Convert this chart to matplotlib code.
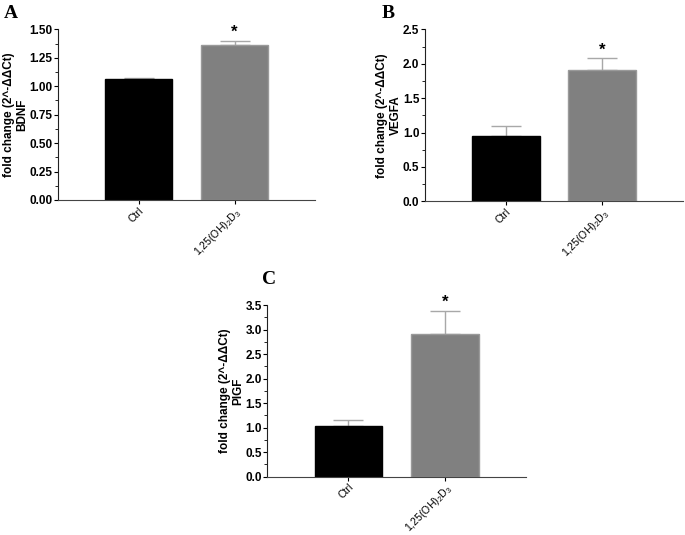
import numpy as np
import matplotlib.pyplot as plt
from matplotlib.ticker import MultipleLocator, FormatStrFormatter

plt.rcParams['font.family'] = ['Liberation Sans', 'DejaVu Sans']
plt.rcParams['mathtext.fontset'] = 'custom'
plt.rcParams['mathtext.rm'] = 'Liberation Sans'
plt.rcParams['mathtext.it'] = 'Liberation Sans:italic'
plt.rcParams['mathtext.bf'] = 'Liberation Sans:bold'

groups = ["Ctrl", "1,25(OH)$_2$D$_3$"]
bdnf = [1.06, 1.36]
bdnf_err = [0.01, 0.04]
vegfa = [0.95, 1.91]
vegfa_err = [0.15, 0.17]
pigf = [1.03, 2.91]
pigf_err = [0.12, 0.47]

panels = [
    ("A", "BDNF", bdnf, bdnf_err, 1.5, 0.25, "%.2f", [58.3, 200, 315, 29.3], (4, 14)),
    ("B", "VEGFA", vegfa, vegfa_err, 2.5, 0.5, "%.1f", [425, 201.3, 683, 29.3], (382, 14)),
    ("C", "PlGF", pigf, pigf_err, 3.5, 0.5, "%.1f", [267.3, 476.7, 526, 305], (262, 280)),
]

W, H = 685, 535
fig = plt.figure(figsize=(W / 100, H / 100), dpi=100)

bar_colors = ["black", "#808080"]
edge_colors = ["black", "#9a9a9a"]

for letter, gene, vals, errs, ymax, step, fmt, box, lpos in panels:
    l, b, r, t = box
    ax = fig.add_axes([l / W, 1 - b / H, (r - l) / W, (b - t) / H])
    x = np.arange(len(vals))
    ax.bar(x, vals, width=0.7, color=bar_colors, edgecolor=edge_colors, linewidth=1, zorder=2)
    ax.errorbar(x, vals, yerr=[np.zeros(len(errs)), errs], fmt="none",
                ecolor="#a8a8a8", elinewidth=1, capsize=11, capthick=1, zorder=1)
    ax.text(x[1], vals[1] + errs[1] + ymax * 0.005, "*", ha="center", va="bottom",
            fontsize=12, fontweight="bold")
    ax.set_xlim(-0.84, 1.84)
    ax.set_ylim(0, ymax)
    ax.yaxis.set_major_locator(MultipleLocator(step))
    ax.yaxis.set_minor_locator(MultipleLocator(step / 2))
    ax.yaxis.set_major_formatter(FormatStrFormatter(fmt))
    for s in ["top", "right"]:
        ax.spines[s].set_visible(False)
    ax.spines["left"].set_color("#222222")
    ax.spines["bottom"].set_color("#444444")
    ax.tick_params(axis="y", which="major", length=3, width=0.8, labelsize=8.5, pad=1)
    ax.tick_params(axis="y", which="minor", length=2, width=0.6)
    ax.tick_params(axis="x", length=3, width=0.8, labelsize=7.6, pad=1)
    for lab in ax.get_yticklabels():
        lab.set_fontweight("bold")
    ax.set_xticks(x)
    ax.set_xticklabels(groups, rotation=45, ha="right", rotation_mode="anchor")
    ax.set_ylabel("fold change (2^-\u0394\u0394Ct)\n" + gene, fontsize=8.5,
                  fontweight="bold", labelpad=1, linespacing=1.15)
    fig.text(lpos[0] / W, 1 - lpos[1] / H, letter, fontsize=14, fontweight="bold",
             family=["Liberation Serif", "DejaVu Serif"], ha="left", va="center")

fig.savefig("out.png", dpi=100)
